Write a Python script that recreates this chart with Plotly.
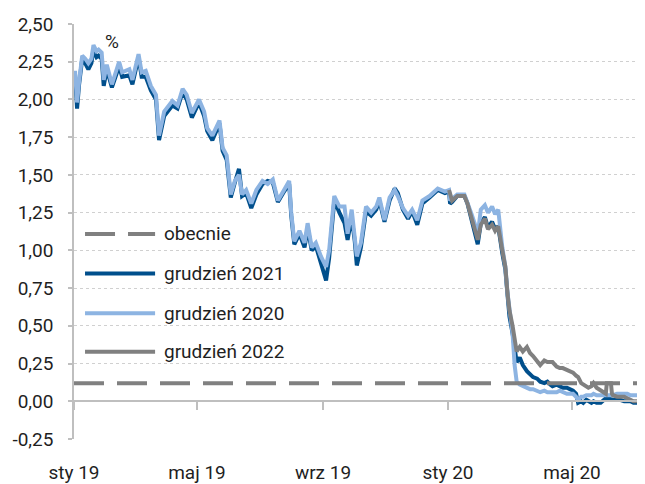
import plotly.graph_objects as go

# ---------------- data ----------------
dates = [
    "2019-01-02", "2019-01-03", "2019-01-04", "2019-01-06", "2019-01-09", "2019-01-12",
    "2019-01-15", "2019-01-18", "2019-01-20", "2019-01-23", "2019-01-25", "2019-01-28",
    "2019-01-30", "2019-02-02", "2019-02-07", "2019-02-14", "2019-02-17", "2019-02-24",
    "2019-02-27", "2019-03-05", "2019-03-08", "2019-03-12", "2019-03-17", "2019-03-22",
    "2019-03-25", "2019-03-30", "2019-04-07", "2019-04-12", "2019-04-17", "2019-04-21",
    "2019-04-26", "2019-05-03", "2019-05-08", "2019-05-11", "2019-05-16", "2019-05-23",
    "2019-05-26", "2019-05-30", "2019-06-03", "2019-06-07", "2019-06-11", "2019-06-14",
    "2019-06-18", "2019-06-23", "2019-06-28", "2019-07-04", "2019-07-09", "2019-07-14",
    "2019-07-19", "2019-07-25", "2019-07-30", "2019-08-01", "2019-08-04", "2019-08-09",
    "2019-08-14", "2019-08-17", "2019-08-21", "2019-08-25", "2019-08-30", "2019-09-04",
    "2019-09-07", "2019-09-12", "2019-09-17", "2019-09-22", "2019-09-25", "2019-09-29",
    "2019-10-02", "2019-10-04", "2019-10-08", "2019-10-13", "2019-10-18", "2019-10-23",
    "2019-10-26", "2019-10-31", "2019-11-05", "2019-11-10", "2019-11-13", "2019-11-18",
    "2019-11-23", "2019-11-27", "2019-12-02", "2019-12-07", "2019-12-14", "2019-12-22",
    "2019-12-29",
    "2020-01-02", "2020-01-03", "2020-01-05", "2020-01-10", "2020-01-17", "2020-01-20",
    "2020-01-24", "2020-01-27", "2020-01-30", "2020-02-02", "2020-02-06", "2020-02-09",
    "2020-02-13", "2020-02-16", "2020-02-19", "2020-02-23", "2020-02-26", "2020-02-28",
    "2020-03-01", "2020-03-04", "2020-03-06", "2020-03-08", "2020-03-11", "2020-03-14",
    "2020-03-18", "2020-03-21", "2020-03-24", "2020-03-28", "2020-03-31", "2020-04-04",
    "2020-04-07", "2020-04-10", "2020-04-12", "2020-04-16", "2020-04-19", "2020-04-22",
    "2020-04-26", "2020-04-29", "2020-05-02", "2020-05-05", "2020-05-07", "2020-05-10",
    "2020-05-12", "2020-05-15", "2020-05-17", "2020-05-20", "2020-05-22", "2020-05-25",
    "2020-05-29", "2020-06-01", "2020-06-03", "2020-06-04", "2020-06-08", "2020-06-09",
    "2020-06-10", "2020-06-14", "2020-06-17", "2020-06-21", "2020-06-24", "2020-06-27",
    "2020-06-30", "2020-07-04", "2020-07-06", "2020-07-09",
]

grudzien_2020 = [
    2.19, 2.05, 1.98, 2.12, 2.29, 2.27, 2.24, 2.27, 2.36, 2.32, 2.33, 2.31,
    2.13, 2.23, 2.10, 2.25, 2.18, 2.20, 2.13, 2.30, 2.18, 2.19, 2.09, 2.03,
    1.76, 1.92, 1.99, 1.96, 2.07, 2.03, 1.91, 2.00, 1.92, 1.81, 1.76, 1.86,
    1.68, 1.63, 1.37, 1.46, 1.50, 1.37, 1.40, 1.31, 1.40, 1.46, 1.44, 1.47,
    1.33, 1.40, 1.46, 1.25, 1.06, 1.13, 1.05, 1.18, 1.02, 1.05, 0.96, 0.89,
    1.00, 1.36, 1.29, 1.29, 1.11, 1.27, 1.10, 0.96, 1.05, 1.29, 1.25, 1.29,
    1.35, 1.20, 1.35, 1.40, 1.36, 1.28, 1.23, 1.27, 1.20, 1.33, 1.36, 1.41,
    1.39,
    1.40, 1.33, 1.34, 1.37, 1.37, 1.32, 1.24, 1.18, 1.10, 1.27, 1.30, 1.25,
    1.29, 1.24, 1.27, 1.02, 0.89, 0.72, 0.59, 0.45, 0.24, 0.13, 0.11, 0.10,
    0.09, 0.08, 0.08, 0.07, 0.06, 0.07, 0.06, 0.06, 0.06, 0.06, 0.07, 0.06,
    0.05, 0.05, 0.05, 0.03, 0.01, 0.03, 0.03, 0.04, 0.04, 0.04, 0.05, 0.04,
    0.04, 0.04, 0.04, 0.04, 0.04, 0.04, 0.04, 0.05, 0.05, 0.05, 0.05, 0.04,
    0.04, 0.04, 0.04, 0.04,
]

grudzien_2021 = [
    2.17, 2.00, 1.94, 2.10, 2.27, 2.24, 2.20, 2.24, 2.33, 2.28, 2.29, 2.27,
    2.09, 2.20, 2.08, 2.22, 2.15, 2.16, 2.10, 2.28, 2.15, 2.15, 2.06, 2.00,
    1.73, 1.89, 1.96, 1.94, 2.05, 2.00, 1.88, 1.98, 1.89, 1.79, 1.73, 1.84,
    1.66, 1.60, 1.35, 1.45, 1.54, 1.36, 1.38, 1.28, 1.37, 1.44, 1.46, 1.45,
    1.32, 1.39, 1.44, 1.23, 1.04, 1.11, 1.02, 1.15, 1.00, 1.03, 0.92, 0.80,
    0.95, 1.33, 1.25, 1.18, 1.07, 1.22, 1.06, 0.90, 1.02, 1.26, 1.23, 1.27,
    1.33, 1.19, 1.33, 1.41, 1.38, 1.27, 1.21, 1.26, 1.17, 1.31, 1.35, 1.40,
    1.38,
    1.39, 1.31, 1.32, 1.36, 1.36, 1.31, 1.21, 1.12, 1.04, 1.18, 1.22, 1.15,
    1.19, 1.14, 1.16, 0.98, 0.87, 0.71, 0.56, 0.45, 0.33, 0.26, 0.29, 0.24,
    0.20, 0.18, 0.16, 0.15, 0.13, 0.12, 0.13, 0.11, 0.10, 0.11, 0.10, 0.09,
    0.09, 0.08, 0.07, 0.05, -0.01, 0.00, -0.01, 0.01, 0.00, -0.01, 0.00, -0.01,
    -0.01, 0.01, 0.02, 0.02, 0.01, 0.01, 0.01, 0.01, 0.01, 0.00, 0.00, 0.00,
    -0.01, -0.01, -0.02, -0.02,
]

grudzien_2022 = [None] * 85 + [
    1.40, 1.37, 1.33, 1.36, 1.36, 1.31, 1.21, 1.14, 1.07, 1.17, 1.21, 1.14,
    1.17, 1.13, 1.16, 1.00, 0.89, 0.72, 0.60, 0.50, 0.39, 0.33, 0.36, 0.33,
    0.36, 0.32, 0.30, 0.27, 0.24, 0.27, 0.26, 0.26, 0.26, 0.23, 0.22, 0.22,
    0.21, 0.20, 0.19, 0.17, 0.16, 0.12, 0.11, 0.10, 0.09, 0.10, 0.12, 0.09,
    0.07, 0.06, 0.05, 0.12, 0.12, 0.05, 0.04, 0.03, 0.03, 0.03, 0.02, 0.01,
    0.00, 0.00, -0.01, -0.02,
]

obecnie_dates = ["2019-01-01", "2020-07-12"]
obecnie_values = [0.12, 0.12]

series_names = ["obecnie", "grudzień 2021", "grudzień 2020", "grudzień 2022"]
series_colors = ["#808080", "#004F8C", "#8DB4E2", "#808080"]
series_dash = ["30px,13px", "solid", "solid", "solid"]

ytick_vals = [-0.25, 0.0, 0.25, 0.5, 0.75, 1.0, 1.25, 1.5, 1.75, 2.0, 2.25, 2.5]
ytick_labels = ["-0,25", "0,00", "0,25", "0,50", "0,75", "1,00", "1,25",
                "1,50", "1,75", "2,00", "2,25", "2,50"]
xtick_dates = ["2019-01-01", "2019-05-01", "2019-09-01", "2020-01-01", "2020-05-01"]
xtick_labels = ["sty 19", "maj 19", "wrz 19", "sty 20", "maj 20"]

# ---------------- figure ----------------
FONT = "Roboto, 'Liberation Sans', Arial, sans-serif"
LW = 4

fig = go.Figure()
fig.add_trace(go.Scatter(x=obecnie_dates, y=obecnie_values, mode="lines",
                         name=series_names[0], xaxis="x2", yaxis="y",
                         line=dict(color=series_colors[0], width=4, dash=series_dash[0]),
                         showlegend=False))
for name, color, vals in zip(series_names[1:], series_colors[1:],
                             [grudzien_2021, grudzien_2020, grudzien_2022]):
    fig.add_trace(go.Scatter(x=dates, y=vals, mode="lines", name=name,
                             line=dict(color=color, width=LW),
                             connectgaps=False, showlegend=False))

y_min, y_max = -0.25, 2.5
zero_pos = (0 - y_min) / (y_max - y_min)
x_range = ["2019-01-01", "2020-07-11 06:00"]

# the page body has an 8px margin, so the figure is sized to the visible area
fig.update_layout(
    width=637, height=476,
    margin=dict(l=66, r=0, t=16, b=41),
    paper_bgcolor="white", plot_bgcolor="white",
    font=dict(family=FONT, size=19, color="#1f1f1f"),
    xaxis=dict(range=x_range, type="date", showgrid=False, zeroline=False,
               showline=False, ticks="", tickvals=xtick_dates, ticktext=xtick_labels,
               ticklabelstandoff=20, tickfont=dict(size=19, color="#1f1f1f")),
    xaxis2=dict(range=x_range, type="date", matches="x", overlaying="x",
                anchor="free", position=zero_pos, side="bottom",
                showgrid=False, zeroline=False, showline=True,
                linecolor="#BFBFBF", linewidth=1.5, ticks="outside", ticklen=8,
                tickwidth=1.5, tickcolor="#BFBFBF", tickvals=xtick_dates,
                showticklabels=False),
    yaxis=dict(range=[y_min, y_max], tickvals=ytick_vals, ticktext=ytick_labels,
               showgrid=True, gridcolor="#D0D0D0", gridwidth=1, griddash="dot",
               zeroline=False, showline=True, linecolor="#BFBFBF", linewidth=1.5,
               ticks="outside", ticklen=4, tickwidth=1.5, tickcolor="#BFBFBF",
               ticklabelstandoff=11, tickfont=dict(size=19, color="#1f1f1f")),
    showlegend=False,
)

# "%" unit label
fig.add_annotation(text="%", xref="paper", yref="paper", x=0.066, y=0.958,
                   showarrow=False, font=dict(size=19, color="#1f1f1f"),
                   xanchor="center", yanchor="middle")

# custom legend (long line samples as in the original)
legend_y = [0.494, 0.3986, 0.303, 0.210]
for name, color, dash, ly in zip(series_names, series_colors, series_dash, legend_y):
    fig.add_shape(type="line", xref="paper", yref="paper",
                  x0=0.0193, x1=0.142, y0=ly, y1=ly,
                  line=dict(color=color, width=4, dash=dash))
    fig.add_annotation(text=name, xref="paper", yref="paper", x=0.1536, y=ly,
                       xanchor="left", yanchor="middle", showarrow=False,
                       font=dict(size=19, color="#1f1f1f"))

fig.write_html("out.html")
